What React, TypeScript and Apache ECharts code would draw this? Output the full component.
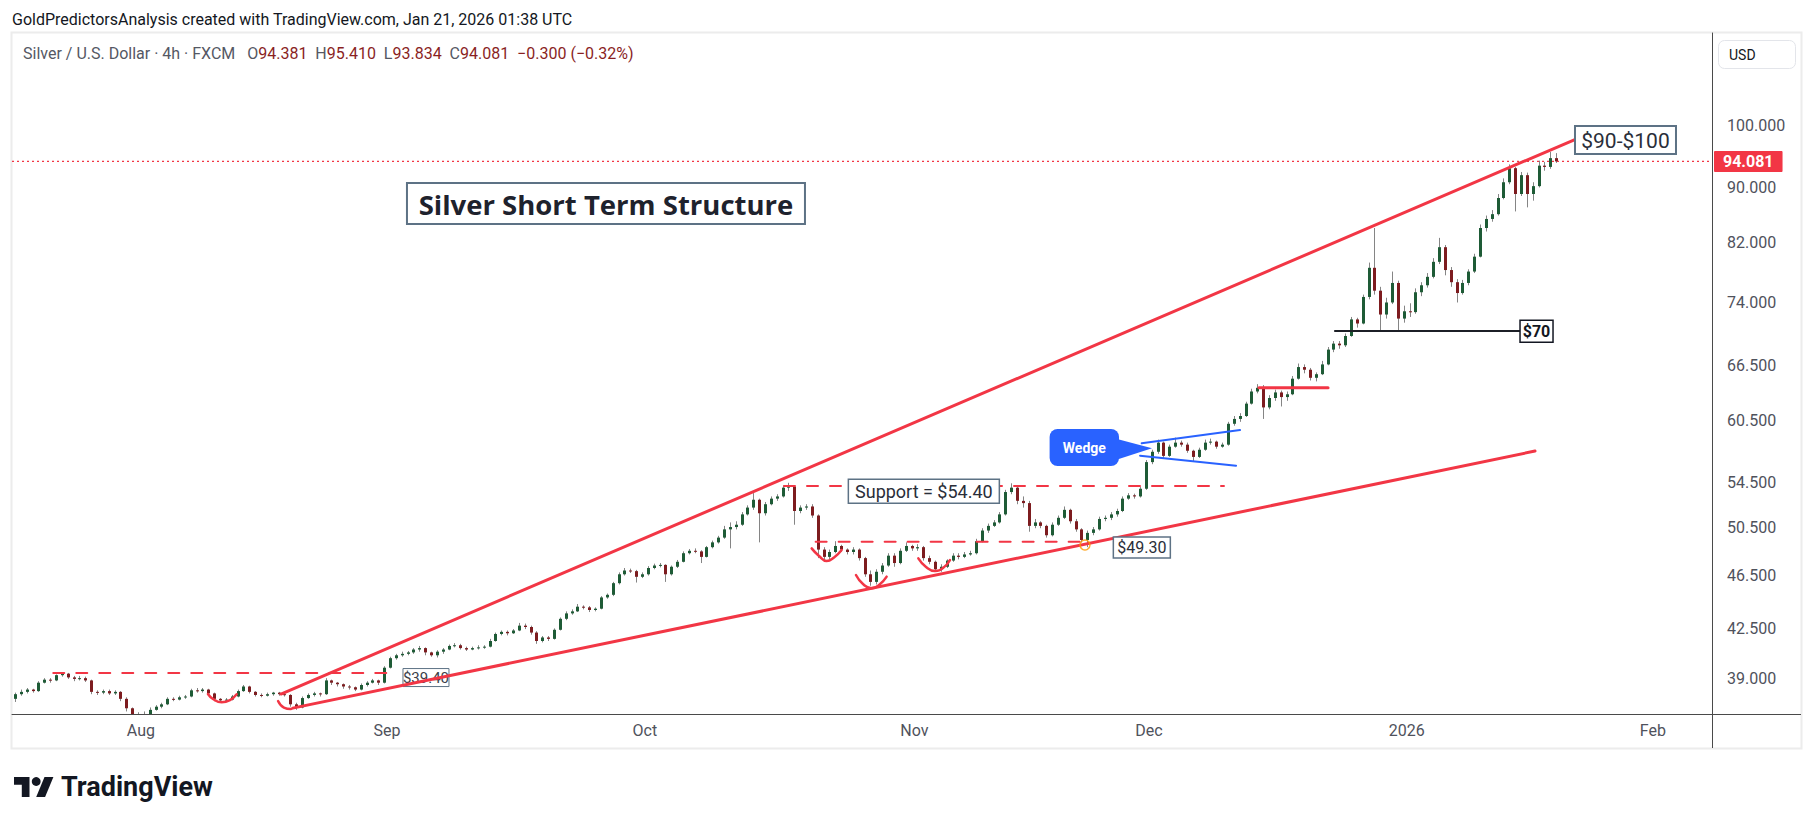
import React, { useEffect, useRef } from "react";
import * as echarts from "echarts";

const FONT = "Roboto, 'Noto Sans', 'Liberation Sans', sans-serif";
const TITLE_FONT = "'Open Sans', Roboto, sans-serif";

// ---- calendar / axes ----
const firstTradingDay = "2025-07-17";
const closedDays = ["2025-12-25", "2026-01-01"];
const calendarDays = 146;
const visibleDays = 145.05;
const timeTickLabels = ["Aug", "Sep", "Oct", "Nov", "Dec", "2026", "Feb"];
const priceTicks = [39, 42.5, 46.5, 50.5, 54.5, 60.5, 66.5, 74, 82, 90, 100];
const priceMin = 36.74;
const priceMax = 117.05;
const lastPrice = 94.081;

// ---- candles: two 12h candles per trading day, [open, close, low, high] ----
const candles = [
  [37.7,38.0,37.5,38.1],[38.0,38.15,37.9,38.3],
  [38.15,38.3,38.05,38.4],[38.3,38.2,38.1,38.35],
  [38.2,38.75,38.15,38.85],[38.75,38.95,38.7,39.05],
  [38.95,38.9,38.75,39.05],[38.9,39.25,38.85,39.3],
  [39.25,39.35,39.15,39.45],[39.35,39.1,39.0,39.4],
  [39.1,39.0,38.85,39.2],[39.0,39.05,38.9,39.2],
  [39.05,38.9,38.8,39.15],[38.9,38.15,38.0,38.95],
  [38.15,38.1,37.95,38.25],[38.1,38.2,38.0,38.3],
  [38.2,38.05,37.95,38.3],[38.05,38.15,37.95,38.25],
  [38.15,37.7,37.55,38.2],[37.7,37.1,36.9,37.8],
  [37.1,36.6,36.4,37.15],[36.6,36.7,36.4,36.85],
  [36.7,36.5,36.2,36.9],[36.5,37.0,36.4,37.15],
  [37.0,37.2,36.95,37.3],[37.2,37.35,37.1,37.45],
  [37.35,37.7,37.3,37.8],[37.7,37.65,37.55,37.8],
  [37.65,37.8,37.6,37.9],[37.8,37.85,37.7,37.95],
  [37.85,38.25,37.8,38.35],[38.25,38.2,38.1,38.4],
  [38.2,38.3,38.1,38.4],[38.3,38.05,37.95,38.35],
  [38.05,37.7,37.55,38.1],[37.7,37.6,37.5,37.75],
  [37.6,37.65,37.5,37.75],[37.65,37.85,37.6,37.95],
  [37.85,38.2,37.8,38.3],[38.2,38.5,38.15,38.6],
  [38.5,38.15,38.05,38.55],[38.15,37.95,37.85,38.2],
  [37.95,37.9,37.8,38.05],[37.9,38.0,37.85,38.1],
  [38.0,38.1,37.9,38.15],[38.1,38.0,37.9,38.15],
  [38.0,37.95,37.85,38.05],[37.95,37.35,37.2,38.0],
  [37.35,37.15,37.0,37.45],[37.15,37.75,37.1,37.85],
  [37.75,37.95,37.7,38.05],[37.95,38.05,37.85,38.15],
  [38.05,38.0,37.85,38.1],[38.0,38.9,37.95,39.05],
  [38.9,38.75,38.6,38.95],[38.75,38.65,38.5,38.8],
  [38.65,38.5,38.35,38.7],[38.5,38.45,38.3,38.6],
  [38.45,38.3,38.2,38.5],[38.3,38.6,38.25,38.7],
  [38.6,38.75,38.5,38.85],[38.75,38.9,38.7,39.0],
  [38.9,38.75,38.6,38.95],[38.75,39.75,38.7,39.85],
  [39.75,40.4,39.7,40.5],[40.4,40.6,40.3,40.7],
  [40.6,40.7,40.5,40.85],[40.7,40.8,40.6,40.9],
  [40.8,41.0,40.7,41.1],[41.0,41.1,40.85,41.25],
  [41.1,40.8,40.6,41.15],[40.8,40.6,40.5,40.85],
  [40.6,40.85,40.45,40.95],[40.85,41.0,40.7,41.1],
  [41.0,41.25,40.95,41.35],[41.25,41.3,41.15,41.45],
  [41.3,41.1,41.0,41.4],[41.1,41.0,40.9,41.2],
  [41.0,41.1,40.95,41.2],[41.1,41.15,41.0,41.3],
  [41.15,41.2,41.05,41.3],[41.2,41.6,41.15,41.75],
  [41.6,42.1,41.55,42.2],[42.1,42.25,42.0,42.35],
  [42.25,42.15,42.0,42.35],[42.15,42.35,42.1,42.45],
  [42.35,42.7,42.3,42.9],[42.7,42.6,42.45,42.85],
  [42.6,42.2,42.05,42.7],[42.2,41.6,41.4,42.3],
  [41.6,41.85,41.5,41.95],[41.85,41.75,41.6,41.95],
  [41.75,42.4,41.7,42.5],[42.4,43.2,42.35,43.3],
  [43.2,43.6,43.1,43.75],[43.6,43.75,43.5,43.9],
  [43.75,44.1,43.7,44.3],[44.1,44.05,43.9,44.2],
  [44.05,43.85,43.7,44.15],[43.85,43.95,43.75,44.05],
  [43.95,44.8,43.9,44.9],[44.8,45.0,44.7,45.1],
  [45.0,45.9,44.9,46.0],[45.9,46.6,45.8,46.75],
  [46.6,46.9,46.5,47.1],[46.9,46.85,46.7,47.05],
  [46.85,46.4,45.95,46.95],[46.4,46.6,46.3,46.75],
  [46.6,47.1,46.5,47.25],[47.1,47.3,47.0,47.45],
  [47.3,47.35,47.15,47.5],[47.35,46.6,46.0,47.4],
  [46.6,47.2,46.5,47.3],[47.2,47.6,47.1,47.75],
  [47.6,48.3,47.55,48.45],[48.3,48.5,48.2,48.65],
  [48.5,48.45,48.3,48.7],[48.45,48.0,47.5,48.55],
  [48.0,48.8,47.95,48.9],[48.8,49.2,48.7,49.35],
  [49.2,49.6,49.1,49.75],[49.6,50.3,49.5,50.6],
  [50.3,50.5,48.7,50.9],[50.5,50.7,50.3,51.0],
  [50.7,51.6,50.6,51.8],[51.6,52.2,51.5,52.4],
  [52.2,52.9,52.0,53.5],[52.9,51.7,49.2,53.0],
  [51.7,52.5,51.5,52.7],[52.5,53.0,52.4,53.2],
  [53.0,53.2,52.8,53.4],[53.2,54.0,53.1,54.2],
  [54.0,54.1,53.7,54.45],[54.1,51.9,50.7,54.2],
  [51.9,52.2,51.7,52.4],[52.2,52.3,52.0,52.5],
  [52.3,51.5,51.3,52.5],[51.5,48.6,47.9,51.6],
  [48.6,48.0,47.6,48.8],[48.0,48.4,47.8,48.6],
  [48.4,48.9,48.3,49.3],[48.9,48.6,48.4,49.0],
  [48.6,48.4,48.2,48.7],[48.4,48.6,48.2,48.8],
  [48.6,47.9,47.7,48.7],[47.9,46.6,46.4,48.0],
  [46.6,46.0,45.7,46.9],[46.0,46.8,45.8,47.0],
  [46.8,47.3,46.6,47.5],[47.3,48.1,47.2,48.3],
  [48.1,47.5,47.2,48.3],[47.5,48.5,47.4,48.7],
  [48.5,48.9,48.4,49.2],[48.9,48.7,48.5,49.0],
  [48.7,48.8,48.5,49.05],[48.8,47.9,47.7,48.9],
  [47.9,47.6,47.4,48.1],[47.6,47.0,46.8,47.7],
  [47.0,47.2,46.8,47.4],[47.2,47.7,47.1,47.8],
  [47.7,48.1,47.6,48.3],[48.1,48.0,47.8,48.3],
  [48.0,48.2,47.9,48.4],[48.2,48.3,48.1,48.5],
  [48.3,49.3,48.2,49.5],[49.3,50.2,49.2,50.4],
  [50.2,50.6,50.0,50.8],[50.6,50.9,50.5,51.1],
  [50.9,51.6,50.8,51.8],[51.6,53.6,51.5,53.8],
  [53.6,54.0,53.4,54.4],[54.0,52.8,52.5,54.2],
  [52.8,52.6,52.2,53.2],[52.6,50.6,50.1,52.8],
  [50.6,50.9,50.4,51.2],[50.9,50.6,50.4,51.0],
  [50.6,49.8,49.6,50.7],[49.8,50.7,49.7,50.9],
  [50.7,51.3,50.6,51.5],[51.3,52.0,51.2,52.3],
  [52.0,51.0,50.8,52.1],[51.0,50.3,50.1,51.2],
  [50.3,49.4,49.2,50.4],[49.4,50.0,48.8,50.2],
  [50.0,50.3,49.8,50.5],[50.3,51.2,50.2,51.4],
  [51.2,51.3,51.0,51.5],[51.3,51.6,51.1,51.8],
  [51.6,51.9,51.4,52.1],[51.9,53.0,51.8,53.2],
  [53.0,53.3,52.9,53.5],[53.3,53.2,53.0,53.45],
  [53.2,53.9,53.1,54.1],[53.9,56.4,53.8,56.6],
  [56.4,57.4,56.2,57.6],[57.4,58.3,57.2,58.6],
  [58.3,57.0,56.7,58.4],[57.0,57.9,56.9,58.1],
  [57.9,58.3,57.8,58.8],[58.3,58.1,57.9,58.5],
  [58.1,57.5,57.3,58.3],[57.5,56.9,56.5,57.6],
  [56.9,57.6,56.8,57.8],[57.6,58.3,57.5,58.6],
  [58.3,58.4,58.1,58.7],[58.4,57.9,57.7,58.5],
  [57.9,58.1,57.8,58.3],[58.1,60.2,58.0,60.4],
  [60.2,60.7,60.0,61.0],[60.7,61.0,60.4,61.3],
  [61.0,62.3,60.9,62.5],[62.3,63.6,62.2,63.9],
  [63.6,64.0,63.4,64.4],[64.0,61.9,60.7,64.3],
  [61.9,62.9,61.7,63.2],[62.9,63.5,62.6,63.8],
  [63.5,63.0,62.0,63.7],[63.0,63.3,62.6,63.6],
  [63.3,65.0,63.2,65.3],[65.0,66.3,64.9,66.7],
  [66.3,66.0,65.6,66.6],[66.0,65.1,64.8,66.2],
  [65.1,65.5,64.7,65.7],[65.5,66.6,65.4,67.0],
  [66.6,68.3,66.5,68.6],[68.3,69.0,68.0,69.3],
  [69.0,68.8,68.4,69.3],[68.8,69.9,68.6,70.2],
  [69.9,71.9,69.8,72.2],[71.9,71.4,70.9,72.1],
  [71.4,74.7,71.3,75.0],[74.7,78.5,74.4,79.2],
  [78.5,75.5,75.0,84.0],[75.5,72.5,70.4,76.0],
  [72.5,74.0,72.0,74.6],[74.0,76.5,73.8,78.0],
  [76.5,72.0,70.5,76.8],[72.0,72.9,71.5,73.6],
  [72.9,72.8,72.2,73.9],[72.8,75.3,72.6,75.8],
  [75.3,76.2,74.8,76.6],[76.2,77.3,75.9,77.8],
  [77.3,79.3,77.1,79.8],[79.3,81.3,79.0,82.6],
  [81.3,78.2,77.5,81.6],[78.2,76.6,76.0,78.6],
  [76.6,75.2,74.0,77.0],[75.2,76.5,75.0,76.9],
  [76.5,78.0,76.2,78.3],[78.0,80.0,77.8,80.4],
  [80.0,84.0,79.9,84.5],[84.0,85.3,83.5,85.8],
  [85.3,86.0,84.9,86.6],[86.0,88.4,85.8,89.0],
  [88.4,90.8,88.2,91.4],[90.8,93.0,90.5,93.6],
  [93.0,89.0,86.4,93.2],[89.0,91.9,88.7,92.4],
  [91.9,89.0,87.0,92.3],[89.0,90.2,88.0,90.8],
  [90.2,93.4,90.0,94.2],[93.4,93.2,92.6,94.0],
  [93.2,94.6,92.9,95.6],[94.6,94.081,93.834,95.41],
];

// ---- drawings, in [trading-day position, price] ----
const upperTrend = [[22.95, 38.01], [133.45, 97.73]];
const lowerTrend = [[23.95, 37.11], [129.95, 57.47]];
const dashedLevels = [
  [3.52, 32.53, 39.4],
  [65.87, 103.41, 54.15],
  [68.57, 91.3, 49.25],
];
const redLevel = [106.4, 112.29, 64.0];
const blackLevel = [112.88, 128.67, 70.5];
const wedgeUpper = [[96.39, 58.23], [104.78, 59.56]];
const wedgeLower = [[96.25, 57.02], [104.44, 56.06]];
const arcs = [
  [[22.7, 37.56], [23.2, 37.14], [23.8, 37.05]],
  [[16.72, 38.01], [17.15, 37.69], [17.89, 37.48], [18.6, 37.62], [19.17, 37.99]],
  [[68.23, 48.7], [68.86, 48.07], [69.51, 47.66], [70.14, 47.95], [70.79, 48.56]],
  [[72.01, 46.54], [72.61, 45.83], [73.35, 45.5], [73.98, 45.75], [74.63, 46.41]],
  [[77.33, 47.88], [77.99, 47.18], [78.75, 46.86], [79.44, 47.1], [80.03, 47.74]],
];
const touchPoint = [91.55, 48.98];

// annotation texts and their anchors (left-middle of each box)
const titleText = "Silver Short Term Structure";
const titleAnchor = [33.7, 87.57];
const targetText = "$90-$100";
const targetAnchor = [133.36, 97.56];
const label3940Text = "$39.40";
const label3940Anchor = [33.36, 39.09];
const supportText = "Support = $54.40";
const supportAnchor = [71.36, 53.66];
const label4930Text = "$49.30";
const label4930Anchor = [93.97, 48.78];
const label70Text = "$70";
const label70Anchor = [128.67, 70.47];
const wedgeText = "Wedge";
const wedgeTip = [97.27, 57.74];

const headerText = "GoldPredictorsAnalysis created with TradingView.com, Jan 21, 2026 01:38 UTC";
const symbolText = "Silver / U.S. Dollar · 4h · FXCM";
const ohlcLegend = [["O", "94.381"], ["H", "95.410"], ["L", "93.834"], ["C", "94.081"]];
const changeText = "−0.300 (−0.32%)";

const RED = "#f23645";
const UP = "#1e5b36";
const DOWN = "#7d1c1f";
const WICK = "#858585";
const SLATE = "#5d7285";

function tradingDays(start: string, count: number, closed: string[]): string[] {
  const out: string[] = [];
  const d = new Date(start + "T00:00:00Z");
  while (out.length < count) {
    const dow = d.getUTCDay();
    const iso = d.toISOString().slice(0, 10);
    if (dow !== 0 && dow !== 6 && closed.indexOf(iso) < 0) out.push(iso);
    d.setUTCDate(d.getUTCDate() + 1);
  }
  return out;
}

export default function App() {
  const ref = useRef<HTMLDivElement>(null);

  useEffect(() => {
    document.body.style.margin = "0";
    const el = ref.current!;
    const chart = echarts.init(el, null, { renderer: "svg" });
    const L = Math.log;

    const days = tradingDays(firstTradingDay, calendarDays, closedDays);
    const monthStarts: number[] = [];
    for (let i = 1; i < days.length; i++) {
      if (days[i].slice(0, 7) !== days[i - 1].slice(0, 7)) monthStarts.push(i);
    }
    const tickText = (v: number) => {
      const j = monthStarts.findIndex((m) => Math.abs(m - v) < 1e-6);
      return j >= 0 ? timeTickLabels[j] || "" : "";
    };

    const candleData = candles.map((c, k) => [
      Math.floor(k / 2) + 0.25 + 0.5 * (k % 2),
      L(c[0]), L(c[1]), L(c[2]), L(c[3]),
    ]);
    const toLn = (pts: number[][]) => pts.map(([v, p]) => [v, L(p)]);
    const lineSeries = (pts: number[][], color: string, width: number, type: any = "solid", smooth: any = false) => ({
      type: "line",
      data: toLn(pts),
      symbol: "none",
      smooth,
      silent: true,
      clip: false,
      z: 5,
      lineStyle: { color, width, type, cap: "round" },
    });

    const series: any[] = [
      {
        type: "custom",
        clip: true,
        silent: true,
        z: 2,
        data: candleData,
        encode: { x: 0, y: [1, 2, 3, 4] },
        renderItem: (params: any, api: any) => {
          const v = api.value(0);
          const o = api.value(1), c = api.value(2), lo = api.value(3), hi = api.value(4);
          const pO = api.coord([v, o]);
          const yC = api.coord([v, c])[1];
          const yL = api.coord([v, lo])[1];
          const yH = api.coord([v, hi])[1];
          const xc = Math.round(pO[0]) + 0.5;
          const top = Math.min(pO[1], yC);
          const bot = Math.max(pO[1], yC);
          return {
            type: "group",
            children: [
              { type: "line", shape: { x1: xc, y1: yH, x2: xc, y2: yL }, style: { stroke: WICK, lineWidth: 1 } },
              {
                type: "rect",
                shape: { x: xc - 1.5, y: top, width: 3, height: Math.max(1, bot - top) },
                style: { fill: c >= o ? UP : DOWN },
              },
            ],
          };
        },
      },
      {
        type: "line",
        data: [[0, L(lastPrice)], [visibleDays, L(lastPrice)]],
        symbol: "none",
        silent: true,
        clip: false,
        z: 3,
        lineStyle: { color: RED, width: 1.2, type: [2, 3] },
        endLabel: {
          show: true,
          formatter: lastPrice.toFixed(3),
          color: "#fff",
          backgroundColor: RED,
          fontSize: 16,
          fontWeight: "bold",
          fontFamily: FONT,
          padding: [3, 9, 2, 9],
          borderRadius: 1,
          distance: 2,
        },
      },
      lineSeries(upperTrend, RED, 3),
      lineSeries(lowerTrend, RED, 3),
      ...dashedLevels.map(([a, b, p]) => lineSeries([[a, p], [b, p]], RED, 2, [11, 12])),
      lineSeries([[redLevel[0], redLevel[2]], [redLevel[1], redLevel[2]]], RED, 3),
      lineSeries([[blackLevel[0], blackLevel[2]], [blackLevel[1], blackLevel[2]]], "#1c1f26", 2),
      lineSeries(wedgeUpper, "#2962ff", 2),
      lineSeries(wedgeLower, "#2962ff", 2),
      ...arcs.map((a) => lineSeries(a, RED, 2.5, "solid", 0.5)),
      {
        type: "scatter",
        data: [[touchPoint[0], L(touchPoint[1])]],
        symbol: "circle",
        symbolSize: 10,
        silent: true,
        z: 6,
        itemStyle: { color: "rgba(0,0,0,0)", borderColor: "#ff9800", borderWidth: 1.5 },
      },
    ];

    chart.setOption({
      animation: false,
      backgroundColor: "#ffffff",
      textStyle: { fontFamily: FONT },
      grid: { left: 12, right: 102, top: 33, bottom: 110, containLabel: false, outerBoundsMode: "none" },
      xAxis: {
        type: "value",
        min: 0,
        max: visibleDays,
        axisLine: { show: true, onZero: false, lineStyle: { color: "#4a4a4a", width: 1 } },
        axisTick: { show: false },
        splitLine: { show: false },
        axisLabel: {
          customValues: monthStarts,
          formatter: (v: number) => tickText(v),
          color: "#4f525c",
          fontSize: 16,
          fontFamily: FONT,
          margin: 8,
        },
      },
      yAxis: {
        type: "value",
        position: "right",
        min: L(priceMin),
        max: L(priceMax),
        axisLine: { show: true, onZero: false, lineStyle: { color: "#4a4a4a", width: 1 } },
        axisTick: { show: false },
        splitLine: { show: false },
        axisLabel: {
          customValues: priceTicks.map((t) => L(t)),
          formatter: (v: number) => Math.exp(v).toFixed(3),
          color: "#4f525c",
          fontSize: 16,
          fontFamily: FONT,
          margin: 15,
        },
      },
      series,
    });

    const px = (a: number[]) => chart.convertToPixel({ gridIndex: 0 } as any, [a[0], L(a[1])]) as number[];

    const txt = (x: number, y: number, text: string, size: number, weight: any, color: string, align = "center", z = 101, family = FONT) => ({
      type: "text",
      z,
      style: {
        text, x, y,
        align, verticalAlign: "middle",
        textAlign: align, textVerticalAlign: "middle",
        fontSize: size, fontWeight: weight, fontFamily: family, fill: color,
      },
    });
    const box = (anchor: number[], w: number, h: number, text: string, size: number, weight: any, color: string, stroke: string, lw: number, z = 100, family = FONT) => {
      const [x, yc] = px(anchor);
      return [
        { type: "rect", z, shape: { x, y: yc - h / 2, width: w, height: h }, style: { fill: "#ffffff", stroke, lineWidth: lw } },
        txt(x + w / 2, yc + 0.5, text, size, weight, color, "center", z + 1, family),
      ];
    };

    const [tx, ty] = px(wedgeTip);
    const wedge = [
      { type: "rect", z: 100, shape: { x: tx - 102.4, y: ty - 19.3, width: 69.4, height: 37, r: 8 }, style: { fill: "#2962ff" } },
      { type: "polygon", z: 100, shape: { points: [[tx - 34, ty - 9], [tx, ty], [tx - 34, ty + 11]] }, style: { fill: "#2962ff" } },
      txt(tx - 67.7, ty - 0.5, wedgeText, 14, "bold", "#ffffff"),
    ];

    const legendRich = `{n|${symbolText}}   ` +
      ohlcLegend.map(([k, v]) => `{n|${k}}{v|${v}}`).join("  ") + `  {v|${changeText}}`;

    const chrome: any[] = [
      txt(12, 19, headerText, 16, "normal", "#131722", "left"),
      { type: "rect", z: 0, shape: { x: 11.5, y: 32.5, width: 1790, height: 716 }, style: { fill: "none", stroke: "#ececec", lineWidth: 2 } },
      {
        type: "text", z: 101,
        style: {
          text: legendRich, x: 23, y: 53,
          verticalAlign: "middle", textVerticalAlign: "middle",
          fontSize: 16, fontFamily: FONT, fill: "#555864",
          rich: {
            n: { fontSize: 16, fontFamily: FONT, fill: "#555864", color: "#555864" },
            v: { fontSize: 16, fontFamily: FONT, fill: "#8a1f1f", color: "#8a1f1f" },
          },
        },
      },
      { type: "rect", z: 10, shape: { x: 1718.5, y: 40.5, width: 77, height: 28, r: 6 }, style: { fill: "#ffffff", stroke: "#e3e5ea", lineWidth: 1 } },
      txt(1729, 55, "USD", 14, "normal", "#131722", "left"),
      { type: "line", z: 10, shape: { x1: 1712.5, y1: 714, x2: 1712.5, y2: 748 }, style: { stroke: "#4a4a4a", lineWidth: 1 } },
      { type: "line", z: 10, shape: { x1: 1712, y1: 714.5, x2: 1801, y2: 714.5 }, style: { stroke: "#4a4a4a", lineWidth: 1 } },
      // TradingView logo
      { type: "polygon", z: 10, shape: { points: [[14, 777], [29.5, 777], [29.5, 797], [21.8, 797], [21.8, 784.8], [14, 784.8]] }, style: { fill: "#131722" } },
      { type: "circle", z: 10, shape: { cx: 36.2, cy: 781.5, r: 4.4 }, style: { fill: "#131722" } },
      { type: "polygon", z: 10, shape: { points: [[45.1, 797], [36.2, 797], [44.5, 777], [53.4, 777]] }, style: { fill: "#131722" } },
      txt(61, 787, "TradingView", 27, "bold", "#131722", "left"),
    ];

    const annotations = [
      ...box(titleAnchor, 398, 41, titleText, 27.5, "bold", "#1e222d", SLATE, 2, 100, TITLE_FONT),
      ...box(targetAnchor, 101, 28, targetText, 21, "normal", "#2a2e39", SLATE, 2),
      ...box(label3940Anchor, 46, 18, label3940Text, 15, "normal", "#3b3f4a", SLATE, 1, 3),
      ...box(supportAnchor, 151, 24, supportText, 18, "normal", "#2a2e39", SLATE, 1.5),
      ...box(label4930Anchor, 57, 21, label4930Text, 16, "normal", "#2a2e39", SLATE, 1.5),
      ...box(label70Anchor, 33, 22, label70Text, 16, "bold", "#131722", "#131722", 1.5),
      ...wedge,
    ];

    chart.setOption({ graphic: [...chrome, ...annotations] });

    return () => chart.dispose();
  }, []);

  return <div ref={ref} style={{ width: 1814, height: 824 }} />;
}
